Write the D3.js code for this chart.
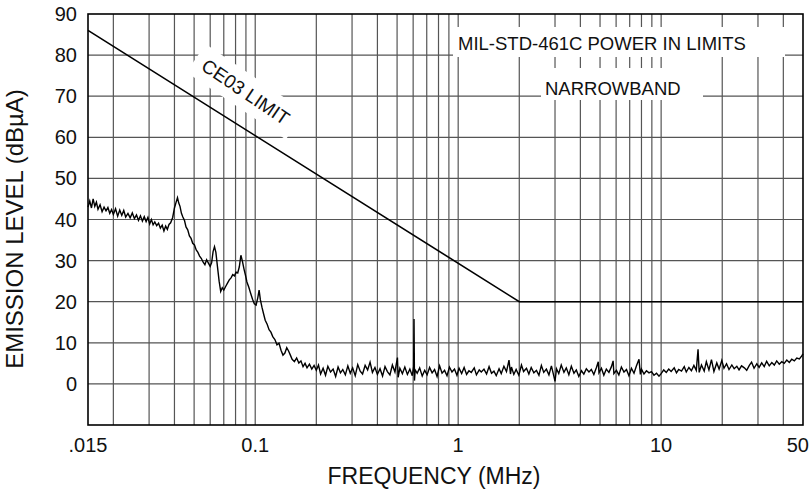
<!DOCTYPE html>
<html>
<head>
<meta charset="utf-8">
<script src="https://cdn.jsdelivr.net/npm/d3@7"></script>
<style>
  body { margin: 0; background: #fff; }
  text { font-family: "Liberation Sans", Arial, sans-serif; fill: #111; }
</style>
</head>
<body>
<div id="chart"></div>
<script>
// tick labels
var xTickValues = [0.015, 0.1, 1, 10, 50];
var xTickLabels = [".015", "0.1", "1", "10", "50"];
var yTickValues = [0, 10, 20, 30, 40, 50, 60, 70, 80, 90];
var yGridValues = [0, 10, 20, 30, 40, 50, 60, 70, 80];

// CE03 narrowband limit (MHz, dBuA)
var limitFreq = [0.015, 2, 50];
var limitLevel = [86, 20, 20];

// measured emission, low band (MHz, dBuA)
var emissionLow = [
  [0.0150, 43.0], [0.0153, 44.5], [0.0156, 42.8], [0.0159, 45.0], [0.0162, 43.2], [0.0165, 44.2],
  [0.0168, 42.5], [0.0172, 43.6], [0.0176, 41.9], [0.0180, 43.0], [0.0184, 42.1], [0.0188, 42.9],
  [0.0192, 41.5], [0.0196, 42.4], [0.0200, 41.2], [0.0205, 42.6], [0.0210, 40.8], [0.0215, 42.3],
  [0.0220, 41.0], [0.0225, 42.2], [0.0230, 40.6], [0.0236, 41.5], [0.0242, 40.4], [0.0248, 41.6],
  [0.0254, 40.2], [0.0260, 41.1], [0.0266, 39.8], [0.0272, 40.9], [0.0278, 39.6], [0.0284, 40.7],
  [0.0290, 39.5], [0.0296, 40.5], [0.0302, 38.9], [0.0308, 40.0], [0.0314, 38.7], [0.0320, 39.4],
  [0.0327, 38.5], [0.0334, 39.1], [0.0341, 37.9], [0.0348, 38.6], [0.0355, 37.2], [0.0362, 38.4],
  [0.0369, 37.6], [0.0376, 38.8], [0.0383, 39.2], [0.0392, 40.5], [0.0400, 42.8], [0.0408, 44.3],
  [0.0414, 45.3], [0.0420, 44.0], [0.0426, 43.2], [0.0433, 41.5], [0.0440, 40.6], [0.0448, 39.8],
  [0.0456, 38.2], [0.0465, 37.5], [0.0474, 36.0], [0.0483, 35.4], [0.0492, 34.2], [0.0502, 33.8],
  [0.0512, 32.6], [0.0522, 32.0], [0.0532, 31.1], [0.0543, 30.5], [0.0554, 29.6], [0.0565, 29.0],
  [0.0576, 30.2], [0.0588, 29.4], [0.0600, 28.6], [0.0610, 29.5], [0.0620, 32.2], [0.0630, 33.4],
  [0.0640, 32.0], [0.0652, 28.4], [0.0664, 25.0], [0.0676, 22.5], [0.0688, 23.4], [0.0700, 22.8],
  [0.0715, 23.7], [0.0730, 24.5], [0.0745, 25.3], [0.0760, 25.8], [0.0775, 26.6], [0.0790, 26.3],
  [0.0805, 27.2], [0.0820, 27.0], [0.0835, 28.5], [0.0850, 31.3], [0.0865, 29.8], [0.0880, 28.0],
  [0.0895, 26.5], [0.0910, 24.8], [0.0930, 23.5], [0.0950, 22.0], [0.0970, 20.6], [0.0990, 19.5],
  [0.1010, 19.2], [0.1030, 21.0], [0.1045, 22.8], [0.1060, 20.5], [0.1080, 18.6], [0.1100, 17.0],
  [0.1120, 15.5], [0.1145, 14.5], [0.1170, 13.2], [0.1195, 12.6], [0.1220, 11.5], [0.1250, 10.8],
  [0.1280, 9.5], [0.1310, 9.9], [0.1340, 8.2], [0.1370, 7.0], [0.1400, 7.5], [0.1430, 8.8],
  [0.1460, 8.0], [0.1490, 7.0], [0.1520, 6.0], [0.1560, 5.4], [0.1600, 6.3], [0.1640, 5.1],
  [0.1680, 5.6], [0.1720, 4.2], [0.1760, 5.0], [0.1800, 3.9], [0.1850, 4.8], [0.1900, 3.6],
  [0.1950, 4.5], [0.2000, 3.3]
];

// measured emission, 0.2 - 1 MHz
var emissionMid = [
  [0.205, 4.6], [0.21, 2.4], [0.216, 3.8], [0.222, 2.1], [0.228, 4.3], [0.235, 2.9], [0.242, 3.6],
  [0.249, 1.8], [0.256, 4.1], [0.263, 2.7], [0.27, 3.5], [0.278, 2.2], [0.286, 4.4], [0.294, 2.6],
  [0.302, 3.9], [0.311, 2.0], [0.32, 4.7], [0.329, 3.1], [0.338, 2.4], [0.348, 4.5], [0.358, 3.4],
  [0.368, 5.3], [0.378, 2.8], [0.389, 4.0], [0.4, 2.3], [0.412, 3.7], [0.424, 1.9], [0.436, 4.2],
  [0.448, 3.0], [0.461, 2.2], [0.474, 4.6], [0.488, 2.9], [0.502, 6.4], [0.506, 1.6], [0.516, 3.8],
  [0.531, 2.5], [0.546, 4.1], [0.562, 2.3], [0.578, 3.6], [0.594, 2.0], [0.603, 4.2], [0.606, 15.8],
  [0.609, 0.8], [0.614, 3.4], [0.628, 2.6], [0.646, 3.9], [0.665, 1.9], [0.684, 3.3], [0.703, 2.2],
  [0.723, 4.0], [0.744, 2.7], [0.765, 3.5], [0.787, 1.8], [0.81, 4.4], [0.833, 2.6], [0.857, 3.3],
  [0.881, 2.0], [0.906, 4.1], [0.932, 2.9], [0.959, 3.6], [0.986, 2.1]
];

// measured emission, 1 - 10 MHz
var emissionHigh = [
  [1.01, 3.8], [1.04, 2.5], [1.07, 4.0], [1.1, 2.3], [1.13, 3.2], [1.16, 2.8], [1.2, 3.9], [1.23, 2.2],
  [1.27, 3.4], [1.3, 2.9], [1.34, 3.6], [1.38, 2.4], [1.42, 4.2], [1.46, 2.6], [1.5, 3.1], [1.54, 2.0],
  [1.59, 3.7], [1.63, 2.5], [1.68, 4.3], [1.73, 3.0], [1.78, 5.8], [1.81, 2.4], [1.83, 4.1], [1.88, 2.3],
  [1.93, 3.5], [1.99, 2.1], [2.05, 4.6], [2.1, 3.0], [2.17, 3.8], [2.23, 2.4], [2.29, 4.0], [2.36, 2.7],
  [2.43, 3.3], [2.5, 2.1], [2.57, 4.5], [2.64, 2.8], [2.72, 3.6], [2.8, 2.2], [2.88, 4.4], [2.96, 1.9],
  [3.0, 0.6], [3.05, 3.7], [3.13, 2.5], [3.22, 4.6], [3.32, 2.8], [3.41, 3.9], [3.51, 2.2], [3.61, 4.3],
  [3.72, 2.6], [3.82, 3.4], [3.93, 1.8], [4.05, 3.2], [4.16, 2.4], [4.28, 3.7], [4.41, 2.9], [4.53, 3.5],
  [4.66, 2.3], [4.8, 4.0], [4.9, 5.4], [4.94, 2.7], [5.08, 3.8], [5.22, 2.1], [5.37, 3.6], [5.53, 2.8],
  [5.69, 4.2], [5.8, 5.6], [5.85, 2.5], [6.02, 3.3], [6.19, 2.2], [6.37, 4.1], [6.56, 2.9], [6.75, 3.5],
  [6.94, 2.0], [7.14, 3.8], [7.35, 2.6], [7.56, 4.4], [7.78, 6.0], [7.9, 2.3], [8.0, 3.6], [8.23, 2.4],
  [8.47, 3.2], [8.71, 2.7], [8.96, 3.0], [9.22, 2.1], [9.49, 2.6], [9.76, 1.9]
];

// measured emission, 10 - 50 MHz
var emissionTop = [
  [10.0, 2.5], [10.3, 3.4], [10.6, 2.8], [10.9, 3.6], [11.2, 3.0], [11.6, 3.9], [11.9, 2.7], [12.2, 3.5],
  [12.6, 3.1], [13.0, 4.2], [13.3, 2.9], [13.7, 4.0], [14.1, 3.2], [14.5, 4.5], [14.9, 3.3], [15.2, 8.4],
  [15.4, 2.8], [15.8, 4.6], [16.3, 3.1], [16.7, 5.4], [17.2, 3.4], [17.7, 5.9], [18.2, 3.0], [18.8, 5.1],
  [19.3, 3.6], [19.9, 5.7], [20.4, 3.8], [21.0, 4.9], [21.6, 3.5], [22.3, 4.6], [22.9, 3.7], [23.6, 4.3],
  [24.2, 3.4], [24.9, 4.4], [25.7, 3.9], [26.4, 3.3], [27.2, 4.5], [27.9, 5.3], [28.7, 3.8], [29.6, 4.9],
  [30.4, 4.0], [31.3, 5.1], [32.2, 4.2], [33.1, 5.5], [34.1, 4.4], [35.1, 5.2], [36.1, 4.6], [37.1, 5.6],
  [38.2, 4.8], [39.3, 5.4], [40.4, 5.0], [41.6, 5.8], [42.8, 5.2], [44.0, 6.0], [45.3, 5.6], [46.6, 6.3],
  [48.0, 6.1], [49.3, 6.8], [50.0, 7.3]
];

var emission = emissionLow.concat(emissionMid, emissionHigh, emissionTop);

// set the dimensions and margins of the graph
var margin = {top: 14, right: 8, bottom: 66, left: 88},
    width = 811 - margin.left - margin.right,
    height = 491 - margin.top - margin.bottom;

var svg = d3.select("#chart")
  .append("svg")
    .attr("width", width + margin.left + margin.right)
    .attr("height", height + margin.top + margin.bottom)
  .append("g")
    .attr("transform", "translate(" + margin.left + "," + margin.top + ")");

var x = d3.scaleLog()
  .domain([0.015, 50])
  .range([0, width]);
var y = d3.scaleLinear()
  .domain([-10, 90])
  .range([height, 0]);

var gridColor = "#555";

// vertical grid (1..9 per decade)
svg.append("g")
  .selectAll("line")
  .data(x.ticks().filter(function(d) { return d > 0.015 && d < 50; }))
  .enter()
  .append("line")
    .attr("x1", function(d) { return x(d); })
    .attr("x2", function(d) { return x(d); })
    .attr("y1", 0)
    .attr("y2", height)
    .attr("stroke", gridColor)
    .attr("stroke-width", 1.2);

// horizontal grid
svg.append("g")
  .selectAll("line")
  .data(yGridValues)
  .enter()
  .append("line")
    .attr("x1", 0)
    .attr("x2", width)
    .attr("y1", function(d) { return y(d); })
    .attr("y2", function(d) { return y(d); })
    .attr("stroke", gridColor)
    .attr("stroke-width", 1.2);

// white boxes behind the titles
var titleBox = svg.append("g");
titleBox.append("rect")
  .attr("x", 453 - margin.left).attr("y", 27 - margin.top)
  .attr("width", 332).attr("height", 30)
  .attr("fill", "#fff");
titleBox.append("text")
  .attr("x", 458 - margin.left).attr("y", 50 - margin.top)
  .style("font-size", "18.5px")
  .text("MIL-STD-461C POWER IN LIMITS");
titleBox.append("rect")
  .attr("x", 541 - margin.left).attr("y", 68 - margin.top)
  .attr("width", 162).attr("height", 32)
  .attr("fill", "#fff");
titleBox.append("text")
  .attr("x", 545 - margin.left).attr("y", 95 - margin.top)
  .style("font-size", "18.5px")
  .text("NARROWBAND");

// CE03 label along the limit line
var x0 = x(limitFreq[0]), y0 = y(limitLevel[0]);
var x1 = x(limitFreq[1]), y1 = y(limitLevel[1]);
var angle = Math.atan2(y1 - y0, x1 - x0);
var fLab = 0.074;
var t = (x(fLab) - x0) / (x1 - x0);
var lx = x0 + t * (x1 - x0) + 32 * Math.sin(angle);
var ly = y0 + t * (y1 - y0) - 32 * Math.cos(angle);
var ceLabel = svg.append("g")
  .attr("transform", "translate(" + lx + "," + ly + ") rotate(" + (angle * 180 / Math.PI + 2) + ")");
ceLabel.append("rect")
  .attr("x", -60).attr("y", -17)
  .attr("width", 120).attr("height", 34)
  .attr("fill", "#fff");
ceLabel.append("text")
  .attr("text-anchor", "middle")
  .attr("dy", "0.35em")
  .style("font-size", "19px")
  .text("CE03 LIMIT");

// limit line
var limitData = limitFreq.map(function(f, i) { return {f: f, v: limitLevel[i]}; });
svg.append("path")
  .datum(limitData)
  .attr("fill", "none")
  .attr("stroke", "#000")
  .attr("stroke-width", 1.6)
  .attr("d", d3.line()
    .x(function(d) { return x(d.f); })
    .y(function(d) { return y(d.v); }));

// emission trace
svg.append("path")
  .datum(emission)
  .attr("fill", "none")
  .attr("stroke", "#000")
  .attr("stroke-width", 1.4)
  .attr("d", d3.line()
    .x(function(d) { return x(d[0]); })
    .y(function(d) { return y(d[1]); }));

// frame
svg.append("rect")
  .attr("width", width)
  .attr("height", height)
  .attr("fill", "none")
  .attr("stroke", "#000")
  .attr("stroke-width", 1.6);

// tick labels (last one kept inside the page)
var last = xTickValues.length - 1;
svg.append("g")
  .selectAll("text")
  .data(xTickValues)
  .enter()
  .append("text")
    .attr("x", function(d, i) { return i == last ? x(d) + 6 : x(d); })
    .attr("y", height + 27)
    .attr("text-anchor", function(d, i) { return i == last ? "end" : "middle"; })
    .style("font-size", "20px")
    .text(function(d, i) { return xTickLabels[i]; });

svg.append("g")
  .selectAll("text")
  .data(yTickValues)
  .enter()
  .append("text")
    .attr("x", -11)
    .attr("y", function(d) { return y(d); })
    .attr("dy", "0.35em")
    .attr("text-anchor", "end")
    .style("font-size", "20px")
    .text(function(d) { return d; });

// axis titles
svg.append("text")
  .attr("x", 434 - margin.left)
  .attr("y", height + 59)
  .attr("text-anchor", "middle")
  .style("font-size", "23px")
  .text("FREQUENCY (MHz)");

svg.append("text")
  .attr("transform", "translate(" + (23 - margin.left) + "," + (229 - margin.top) + ") rotate(-90)")
  .attr("text-anchor", "middle")
  .style("font-size", "24px")
  .text("EMISSION LEVEL (dBµA)");
</script>
</body>
</html>
